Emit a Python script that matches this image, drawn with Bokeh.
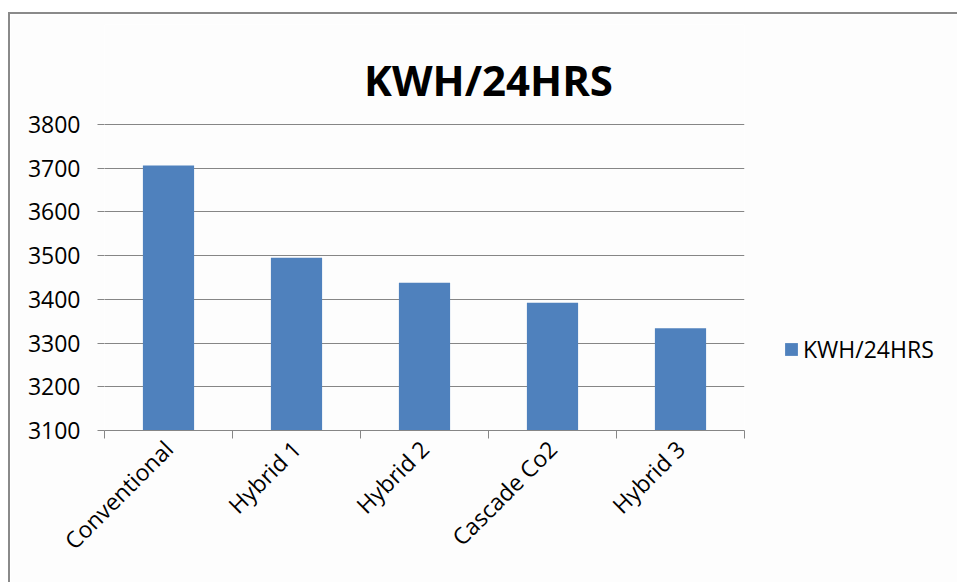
import numpy as np
from bokeh.plotting import figure
from bokeh.models import (ColumnDataSource, Range1d, FixedTicker, Legend,
                          LegendItem, Label)
from bokeh.embed import file_html
from bokeh.resources import INLINE

# Daily energy use per system type
categories = ["Conventional", "Hybrid 1", "Hybrid 2", "Cascade Co2", "Hybrid 3"]
kwh_24hrs = [3706, 3495, 3438, 3392, 3334]
y_ticks = [3100, 3200, 3300, 3400, 3500, 3600, 3700, 3800]
series_name = "KWH/24HRS"

FONT = "Open Sans"
GRID = "#868686"
BAR = "#4F81BD"

# Layout: the value axis spans AXIS_PX pixels; the frame reaches HEADROOM_PX
# further up so the chart title can sit inside it.
AXIS_PX = 306
HEADROOM_PX = 100
TITLE_GAP_PX = 45
units_per_px = (y_ticks[-1] - y_ticks[0]) / AXIS_PX

centers = np.arange(len(categories)) + 0.5
edges = np.arange(len(categories) + 1)

source = ColumnDataSource(dict(x=centers, top=kwh_24hrs, cat=categories))

p = figure(frame_width=640, frame_height=AXIS_PX + HEADROOM_PX,
           x_range=Range1d(0, len(categories)),
           y_range=Range1d(y_ticks[0], y_ticks[-1] + HEADROOM_PX * units_per_px),
           output_backend="svg", toolbar_location=None,
           min_border_left=94, min_border_right=213,
           min_border_top=10, min_border_bottom=152,
           background_fill_color="#fdfdfd", border_fill_color="#fdfdfd")
p.margin = (12, 0, 0, 8)
p.styles = {"border-left": "2px solid #8a8a8a", "border-top": "2px solid #8a8a8a"}
p.outline_line_color = None

bars = p.vbar(x="x", top="top", bottom=y_ticks[0], width=0.4, source=source,
              fill_color=BAR, line_color=None)

# chart title, centred over the whole chart area
p.add_layout(Label(x=len(categories) * 0.6,
                   y=y_ticks[-1] + TITLE_GAP_PX * units_per_px,
                   text=series_name, text_align="center",
                   text_baseline="alphabetic",
                   text_font=FONT, text_font_size="42px",
                   text_font_style="bold", text_color="#000000"))

# x axis: labels at category centres, ticks at category boundaries
xa = p.xaxis[0]
xa.ticker = FixedTicker(ticks=list(centers), minor_ticks=list(edges))
xa.major_label_overrides = {float(c): n for c, n in zip(centers, categories)}
xa.major_label_orientation = np.pi / 4
xa.major_label_text_font = FONT
xa.major_label_text_font_size = "23px"
xa.major_label_text_color = "#000000"
xa.major_label_standoff = 6
xa.major_tick_out = 0
xa.major_tick_in = 0
xa.minor_tick_out = 8
xa.minor_tick_in = 0
xa.minor_tick_line_color = GRID
xa.axis_line_color = GRID

ya = p.yaxis[0]
ya.ticker = FixedTicker(ticks=y_ticks)
ya.major_label_text_font = FONT
ya.major_label_text_font_size = "23px"
ya.major_label_text_color = "#000000"
ya.major_label_standoff = 17
ya.major_tick_out = 7
ya.major_tick_in = 0
ya.major_tick_line_color = GRID
ya.minor_tick_line_color = None
ya.axis_line_color = None

p.xgrid.grid_line_color = None
p.ygrid.grid_line_color = GRID
p.ygrid.ticker = FixedTicker(ticks=y_ticks)

legend = Legend(items=[LegendItem(label=series_name, renderers=[bars])],
                location=(39, 65), padding=0, margin=0, spacing=0,
                glyph_width=16, glyph_height=16, label_standoff=4,
                label_text_font=FONT, label_text_font_size="23px",
                label_text_color="#000000",
                border_line_color=None, background_fill_alpha=0)
p.add_layout(legend, "right")

open("out.html", "w").write(file_html(p, INLINE))
